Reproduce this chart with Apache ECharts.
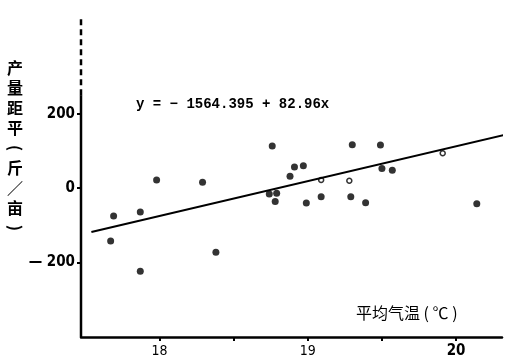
<!DOCTYPE html>
<html>
<head>
<meta charset="utf-8">
<script src="https://cdn.jsdelivr.net/npm/echarts@6/dist/echarts.min.js"></script>
<style>html,body{margin:0;padding:0;background:#fff}#c{width:528px;height:360px}</style>
</head>
<body>
<div id="c"></div>
<script>
// Data
var points = [
  [17.67, -142], [17.69, -75], [17.87, -64], [17.87, -223], [17.98, 22],
  [18.29, 16], [18.38, -172], [18.76, 113], [18.74, -16], [18.79, -14],
  [18.78, -36], [18.88, 32], [18.91, 57], [18.97, 60], [18.99, -40],
  [19.09, -23], [19.29, -23], [19.30, 117], [19.39, -39], [19.49, 116],
  [19.50, 53], [19.57, 48], [20.14, -42]
];
var faintPoints = [[19.09, 22], [19.28, 20], [19.91, 94]];
var fitLine = [[17.54, -118], [20.38, 148]];
var xTicks = [18, 18.5, 19, 19.5, 20];
var xLabels = [18, 19, 20];
var yTicks = [-200, 0, 200];
var yLabels = [-200, 0, 200];
var xRange = [17.47, 20.31];
var yRange = [-400, 460];
var ySolidTop = 250;
var equation = 'y = − 1564.395 + 82.96x';
var yName = ['产', '量', '距', '平', '(', '斤', '／', '亩', ')'];
var xName = '平均气温 ( ℃ )';

var chart = echarts.init(document.getElementById('c'));
var ink = '#000';
var nameGraphics = yName.map(function (ch, i) {
  var paren = (ch === '(' || ch === ')');
  return { type: 'text', x: 15, y: 68 + i * 20, rotation: paren ? -Math.PI / 2 : 0,
    style: { text: ch, font: 'bold 16px "Noto Sans CJK SC"', fill: ink, align: 'center', verticalAlign: 'middle' } };
});
chart.setOption({
  animation: false,
  grid: { left: 81, right: 26, top: 17, bottom: 23 },
  xAxis: {
    type: 'value', min: xRange[0], max: xRange[1],
    axisLine: { onZero: false, lineStyle: { color: ink, width: 2.5 } },
    axisTick: { customValues: xTicks, length: 4, lineStyle: { color: ink, width: 2 } },
    axisLabel: {
      customValues: xLabels, color: ink, fontSize: 14, margin: 7,
      fontFamily: 'DejaVu Sans Condensed',
      formatter: function (v) { return v === 20 ? '{b|20}' : String(v); },
      rich: { b: { fontWeight: 'bold', fontSize: 15, color: ink, fontFamily: 'DejaVu Sans Condensed' } }
    },
    splitLine: { show: false }
  },
  yAxis: {
    type: 'value', min: yRange[0], max: yRange[1],
    axisLine: { show: false },
    axisTick: { show: true, customValues: yTicks, length: 4, lineStyle: { color: ink, width: 2 } },
    axisLabel: {
      customValues: yLabels, color: ink, fontSize: 15, fontWeight: 'bold', margin: 6,
      fontFamily: 'DejaVu Sans Condensed',
      formatter: function (v) { return v < 0 ? '— ' + Math.abs(v) : String(v); }
    },
    splitLine: { show: false }
  },
  graphic: [
    { type: 'text', left: 136, top: 97, style: { text: equation, font: 'bold 14px "Liberation Mono"', fill: ink } },
    { type: 'text', left: 356, top: 305, style: { text: xName, font: '16px "Noto Sans CJK SC"', fill: ink } }
  ].concat(nameGraphics),
  series: [
    { type: 'line', data: [[xRange[0], yRange[0]], [xRange[0], ySolidTop]], symbol: 'none', lineStyle: { color: ink, width: 2.5 }, silent: true, clip: false },
    { type: 'line', data: [[xRange[0], ySolidTop], [xRange[0], yRange[1]]], symbol: 'none', lineStyle: { color: ink, width: 2.5, type: [6, 4] }, silent: true, clip: false },
    { type: 'line', data: fitLine, symbol: 'none', lineStyle: { color: ink, width: 2 }, clip: false },
    { type: 'scatter', data: points, symbolSize: 7, itemStyle: { color: ink } },
    { type: 'scatter', data: faintPoints, symbolSize: 5, itemStyle: { color: '#fff', borderColor: ink, borderWidth: 1.5 } }
  ]
});
</script>
</body>
</html>
